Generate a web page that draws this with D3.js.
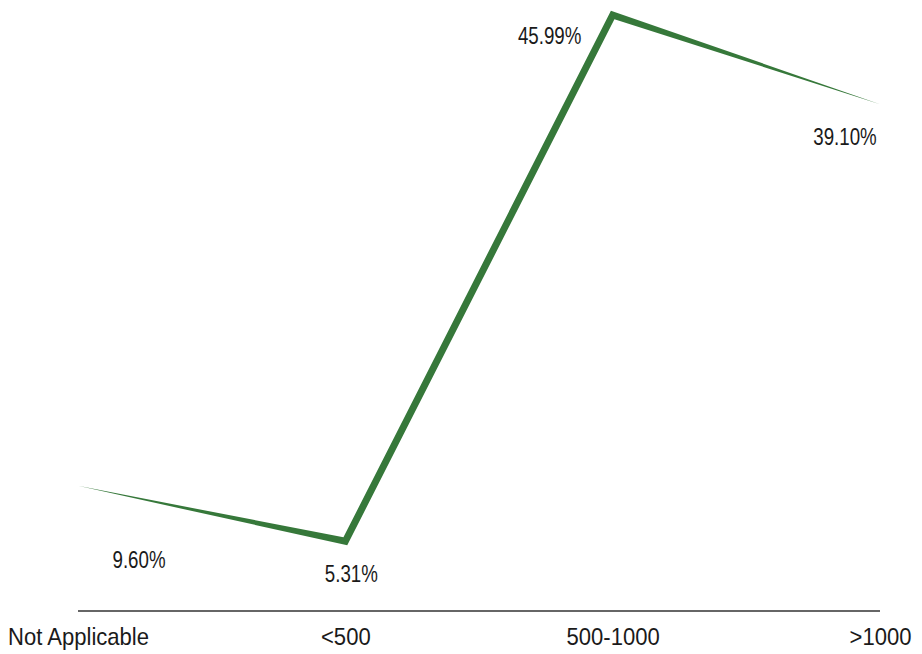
<!DOCTYPE html>
<html>
<head>
<meta charset="utf-8">
<script src="https://cdn.jsdelivr.net/npm/d3@7"></script>
<style>
  body { margin: 0; background: #fff; }
  text { font-family: "Liberation Sans", Arial, sans-serif; fill: #1a1a1a; }
</style>
</head>
<body>
<div id="chart"></div>
<script>
// chart data
var categories = ["Not Applicable", "<500", "500-1000", ">1000"];
var values = [9.60, 5.31, 45.99, 39.10];
var valueLabels = ["9.60%", "5.31%", "45.99%", "39.10%"];

var svgWidth = 922;
var svgHeight = 654;

// stroke width at each point (line tapers to nothing at both ends)
var strokeWidths = [0, 7, 7, 0];
// label offsets from each point, in px
var labelOffsets = [[61, 82], [6, 41], [-63, 29], [-35, 41]];
// the original uses a condensed face, so squeeze the text horizontally
var valueSqueeze = 0.78;
var categorySqueeze = 0.92;

var svg = d3.select("#chart")
  .append("svg")
  .attr("width", svgWidth)
  .attr("height", svgHeight);

var xScale = d3.scalePoint()
  .domain(categories)
  .range([78, 880])
  .padding(0);

var yScale = d3.scaleLinear()
  .domain([0, d3.max(values)])
  .range([610, 15]);

// x axis: plain baseline plus category labels
var xAxis = svg.append("g")
  .attr("transform", "translate(0, 611)")
  .call(d3.axisBottom(xScale).tickSize(0).tickPadding(17));

xAxis.select(".domain")
  .attr("d", "M" + xScale.range()[0] + ",0H" + xScale.range()[1])
  .attr("stroke", "#333")
  .attr("stroke-width", 1.5);

xAxis.selectAll(".tick text")
  .attr("font-size", "24px")
  .attr("fill", "#1a1a1a")
  .attr("transform", "scale(" + categorySqueeze + ",1)")
  .style("font-family", "'Liberation Sans', Arial, sans-serif");

// points on screen
var pts = categories.map(function(c, i) {
  return [xScale(c), yScale(values[i])];
});

// unit normals for each segment
var normals = [];
for (var i = 0; i < pts.length - 1; i++) {
  var dx = pts[i + 1][0] - pts[i][0];
  var dy = pts[i + 1][1] - pts[i][1];
  var len = Math.sqrt(dx * dx + dy * dy);
  normals.push([-dy / len, dx / len]);
}

// outline of the tapered line, mitered at the inner points
var leftSide = [];
var rightSide = [];
pts.forEach(function(p, j) {
  var half = strokeWidths[j] / 2;
  var m, k;
  if (j === 0) {
    m = normals[0]; k = half;
  } else if (j === pts.length - 1) {
    m = normals[j - 1]; k = half;
  } else {
    var a = normals[j - 1], b = normals[j];
    var sx = a[0] + b[0], sy = a[1] + b[1];
    var sl = Math.sqrt(sx * sx + sy * sy);
    m = [sx / sl, sy / sl];
    k = half / (m[0] * a[0] + m[1] * a[1]);
  }
  leftSide.push([p[0] + m[0] * k, p[1] + m[1] * k]);
  rightSide.push([p[0] - m[0] * k, p[1] - m[1] * k]);
});

var outline = leftSide.concat(rightSide.reverse());

svg.append("path")
  .datum(outline)
  .attr("d", d3.line().curve(d3.curveLinearClosed))
  .attr("fill", "#36783a");

// value labels
svg.selectAll(".valueLabel")
  .data(values)
  .enter()
  .append("text")
  .classed("valueLabel", true)
  .attr("transform", function(d, i) {
    var lx = xScale(categories[i]) + labelOffsets[i][0];
    var ly = yScale(d) + labelOffsets[i][1];
    return "translate(" + lx + "," + ly + ") scale(" + valueSqueeze + ",1)";
  })
  .attr("text-anchor", "middle")
  .attr("font-size", "24px")
  .text(function(d, i) { return valueLabels[i]; });
</script>
</body>
</html>
